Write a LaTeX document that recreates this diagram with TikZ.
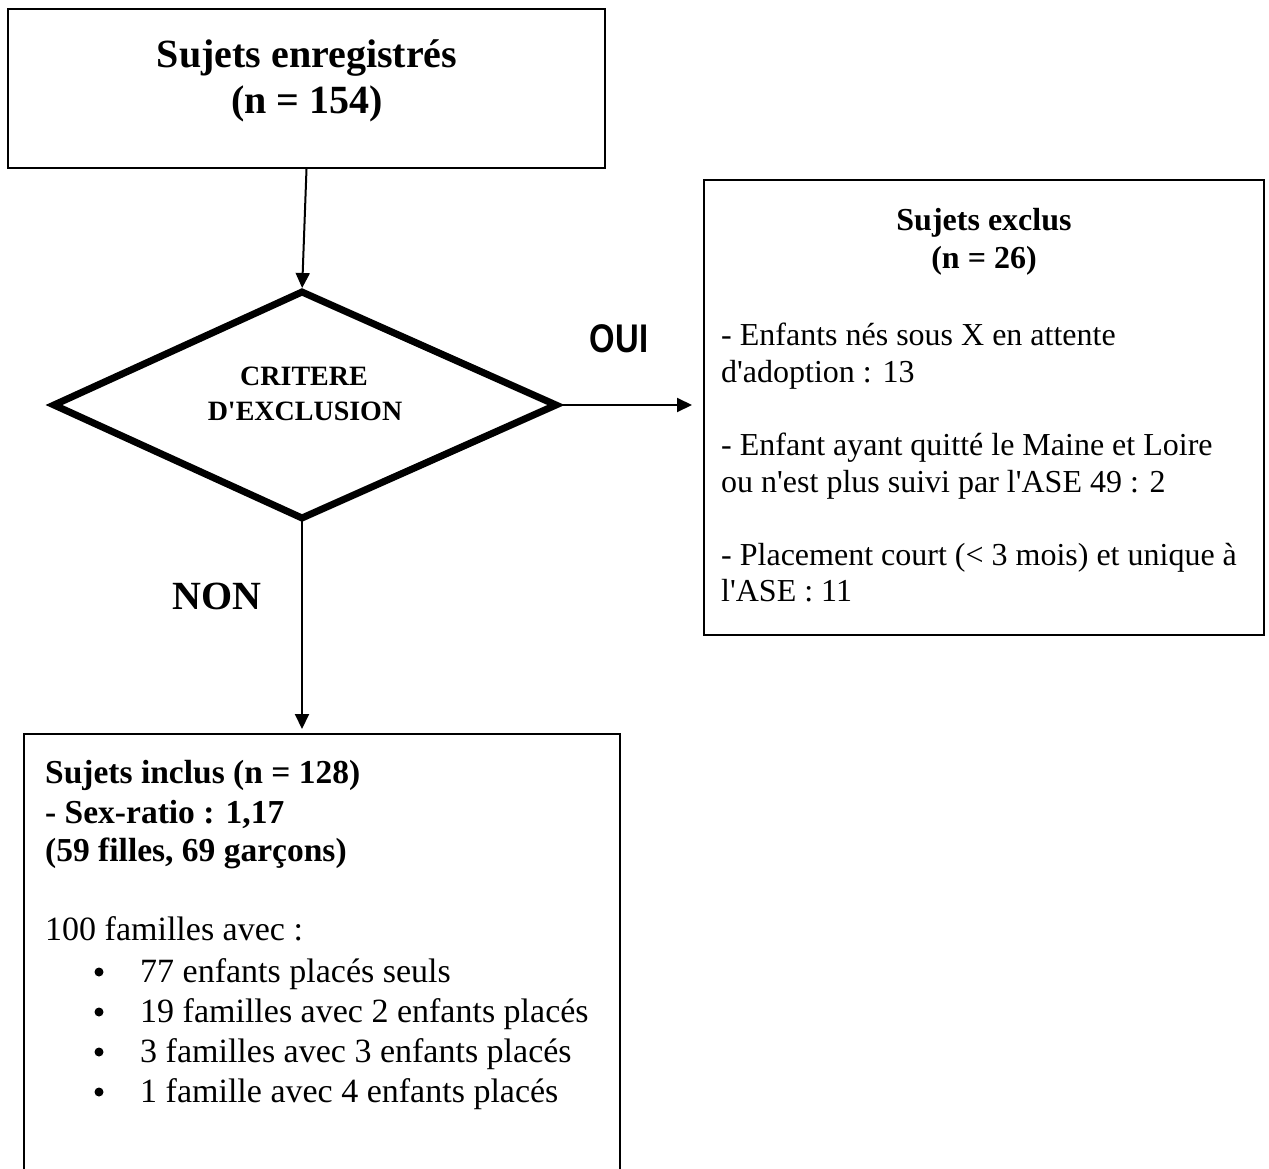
\documentclass[tikz,border=0pt]{standalone}
\usepackage{fontspec}
\setmainfont{Liberation Serif}
\newfontfamily\ouifont{Liberation Sans}
\usepackage{graphicx}
\usetikzlibrary{arrows.meta}
\newcommand\apos{\textquotesingle}
\tikzset{
  box/.style={draw, line width=2pt, rectangle, inner sep=0pt},
  arr/.style={line width=2pt, -{Triangle[length=15pt,width=14pt]}},
  ln/.style={inner sep=0pt, anchor=base west},
  lnc/.style={inner sep=0pt, anchor=base},
  dot/.style={circle, fill, inner sep=0pt, minimum size=9pt},
  ttl/.style={font=\fontsize{40}{46}\selectfont\bfseries},
  crit/.style={font=\fontsize{28}{34}\selectfont\bfseries},
  exb/.style={font=\fontsize{32}{38}\selectfont\bfseries},
  exr/.style={font=\fontsize{32}{37}\selectfont},
  inb/.style={font=\fontsize{33.5}{39}\selectfont\bfseries},
  inr/.style={font=\fontsize{34}{40}\selectfont},
  lab/.style={font=\fontsize{40}{46}\selectfont\bfseries}
}
\begin{document}
\begin{tikzpicture}[x=1pt,y=-1pt]
\useasboundingbox (0,0) rectangle (1269,1169);
\clip (0,0) rectangle (1269,1169);
\fill[white] (0,0) rectangle (1269,1169);

% top box
\node[box, minimum width=597pt, minimum height=159pt] (reg) at (306.5,88.5) {};
\node[lnc, ttl] (reg1) at (307,68) {Sujets enregistrés};
\node[lnc, ttl] (reg2) at (307,114) {(n = 154)};

% diamond
\coordinate (dN) at (302,292);
\coordinate (dE) at (556,405);
\coordinate (dS) at (302,518);
\coordinate (dW) at (54,405);
\draw[line width=7pt, line join=miter, miter limit=20] (dN) -- (dE) -- (dS) -- (dW) -- cycle;
\node[lnc, crit] (c1) at (304,385) {CRITERE};
\node[lnc, crit] (c2) at (305,420) {D\apos EXCLUSION};

% excluded box
\node[box, minimum width=560pt, minimum height=455pt] (exc) at (984,407.5) {};
\node[lnc, exb] (e1) at (984,230) {Sujets exclus};
\node[lnc, exb] (e2) at (984,268) {(n = 26)};
\node[ln, exr] (e3) at (721,345) {- Enfants nés sous X en attente};
\node[ln, exr] (e4) at (721,382) {d\apos adoption : 13};
\node[ln, exr] (e5) at (721,455) {- Enfant ayant quitté le Maine et Loire};
\node[ln, exr] (e6) at (721,492) {ou n\apos est plus suivi par l\apos ASE 49 : 2};
\node[ln, exr] (e7) at (721,565) {- Placement court (< 3 mois) et unique à};
\node[ln, exr] (e8) at (721,601) {l\apos ASE : 11};

% included box
\node[box, minimum width=596pt, minimum height=466pt] (inc) at (322,967) {};
\node[ln, inb] (i1) at (45,783) {Sujets inclus (n = 128)};
\node[ln, inb] (i2) at (45,823) {- Sex-ratio : 1,17};
\node[ln, inb] (i3) at (45,861) {(59 filles, 69 garçons)};
\node[ln, inr] (i4) at (45,940) {100 familles avec :};
\node[dot] (b1) at (99,972) {};
\node[dot] (b2) at (99,1012) {};
\node[dot] (b3) at (99,1052) {};
\node[dot] (b4) at (99,1092) {};
\node[ln, inr] (t1) at (140,982) {77 enfants placés seuls};
\node[ln, inr] (t2) at (140,1022) {19 familles avec 2 enfants placés};
\node[ln, inr] (t3) at (140,1062) {3 familles avec 3 enfants placés};
\node[ln, inr] (t4) at (140,1102) {1 famille avec 4 enfants placés};

% connectors
\draw[arr, shorten >=4pt] (reg.south) -- (dN);
\draw[arr, shorten >=11pt] (dE) -- (dE -| exc.west);
\draw[arr, shorten >=4pt] (dS) -- (dS |- inc.north);

% labels
\node[lnc, font=\ouifont\bfseries\fontsize{40}{46}\selectfont] (oui) at (619,352) {\scalebox{0.82}[1]{OUI}};
\node[lnc, lab] (non) at (217,609) {NON};
\end{tikzpicture}
\end{document}
